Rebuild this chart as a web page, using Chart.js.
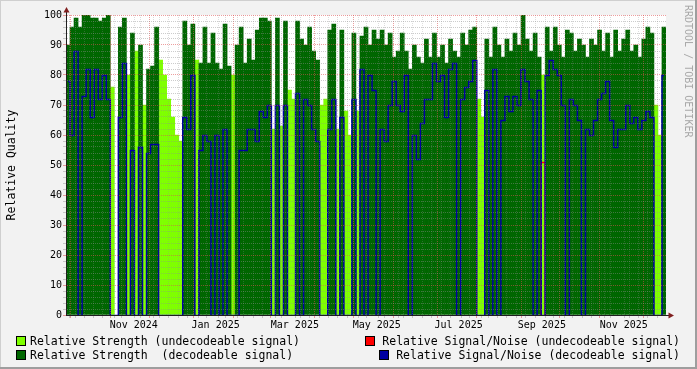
<!DOCTYPE html>
<html>
<head>
<meta charset="utf-8">
<script src="https://cdn.jsdelivr.net/npm/chart.js@4/dist/chart.umd.min.js"></script>
<style>
  html, body { margin: 0; padding: 0; background: #f2f2f2; }
  #wrap { position: relative; width: 697px; height: 369px; overflow: hidden; }
  #chart { position: absolute; left: 0; top: 0; }
  .leg { position: absolute; font-family: "DejaVu Sans Mono", monospace; font-size: 11.5px; line-height: 14px; white-space: pre; color: #000; }
  .sw { position: absolute; width: 8px; height: 8px; border: 1px solid #000; }
  #mark { position: absolute; left: 694px; top: 5px; transform-origin: 0 0; transform: rotate(90deg);
          font-family: "DejaVu Sans Mono", monospace; font-size: 10px; line-height: 12px; white-space: pre; color: #a9a9a9; }
</style>
</head>
<body>
<div id="wrap">
  <canvas id="chart" width="697" height="369"></canvas>
  <div class="sw" style="left:16px;top:336px;background:#7fff00"></div>
  <div class="leg" style="left:30px;top:334px">Relative Strength (undecodeable signal)</div>
  <div class="sw" style="left:365px;top:336px;background:#ff0000"></div>
  <div class="leg" style="right:17px;top:334px">Relative Signal/Noise (undecodeable signal)</div>
  <div class="sw" style="left:16px;top:350px;background:#006600"></div>
  <div class="leg" style="left:30px;top:348px">Relative Strength  (decodeable signal)</div>
  <div class="sw" style="left:379px;top:350px;background:#0000a0"></div>
  <div class="leg" style="right:17px;top:348px">Relative Signal/Noise (decodeable signal)</div>
  <div id="mark">RRDTOOL / TOBI OETIKER</div>
</div>
<script>
// one value every 3 days, first bucket starts 27 Sep 2024
const startDate = Date.UTC(2024, 8, 27);
const bucketDays = 3;

// relative strength per bucket (null = no data)
const strength = [
  90, 96, 99, 96, 100, 100, 99, 99, 98, 99,
  100, 76, null, 96, 99, 80, 94, 88, 90, 70,
  82, 83, 96, 85, 80, 72, 66, 60, 58, 98,
  90, 97, 85, 84, 96, 84, 94, 84, 82, 97,
  83, 80, 90, 96, 84, 92, 85, 95, 99, 99,
  98, 62, 99, 63, 98, 75, 72, 98, 92, 90,
  96, 88, 85, 70, 72, 95, 97, 62, 95, 68,
  60, 94, 68, 93, 96, 90, 95, 92, 95, 90,
  94, 86, 88, 94, 88, 82, 90, 86, 84, 92,
  86, 94, 86, 90, 84, 92, 88, 86, 94, 90,
  95, 96, 72, 66, 92, 86, 96, 90, 86, 92,
  88, 94, 90, 100, 92, 88, 94, 86, 80, 96,
  88, 96, 90, 86, 95, 94, 88, 92, 90, 86,
  92, 90, 95, 88, 94, 86, 95, 88, 92, 95,
  88, 90, 86, 92, 96, 94, 70, 60, 96
];

// 1 = signal could be decoded, 0 = not
const decodeable = [
  1, 1, 1, 1, 1, 1, 1, 1, 1, 1,
  1, 0, 0, 1, 1, 0, 1, 0, 1, 0,
  1, 1, 1, 0, 0, 0, 0, 0, 0, 1,
  1, 1, 0, 1, 1, 1, 1, 1, 1, 1,
  1, 0, 1, 1, 1, 1, 1, 1, 1, 1,
  1, 0, 1, 0, 1, 0, 0, 1, 1, 1,
  1, 1, 1, 0, 0, 1, 1, 0, 1, 0,
  0, 1, 0, 1, 1, 1, 1, 1, 1, 1,
  1, 1, 1, 1, 1, 1, 1, 1, 1, 1,
  1, 1, 1, 1, 1, 1, 1, 1, 1, 1,
  1, 1, 0, 0, 1, 1, 1, 1, 1, 1,
  1, 1, 1, 1, 1, 1, 1, 1, 0, 1,
  1, 1, 1, 1, 1, 1, 1, 1, 1, 1,
  1, 1, 1, 1, 1, 1, 1, 1, 1, 1,
  1, 1, 1, 1, 1, 1, 0, 0, 1
];

// relative signal/noise while decodeable
const snDecodeable = [
  78, 60, 88, 0, 73, 82, 66, 82, 72, 80,
  72, 0, 0, 66, 84, 0, 55, 0, 56, 0,
  54, 57, 57, 0, 0, 0, 0, 0, 0, 66,
  62, 80, 0, 55, 60, 58, 0, 60, 0, 62,
  0, 0, 0, 55, 55, 62, 62, 58, 68, 66,
  70, 0, 70, 0, 70, 0, 0, 74, 0, 72,
  70, 62, 58, 0, 0, 62, 72, 0, 66, 0,
  0, 72, 0, 82, 0, 80, 75, 0, 62, 58,
  70, 78, 70, 68, 80, 0, 60, 52, 64, 72,
  72, 84, 78, 80, 66, 82, 84, 0, 72, 76,
  78, 85, 0, 0, 75, 0, 82, 0, 65, 73,
  68, 73, 70, 82, 78, 72, 0, 75, 0, 80,
  85, 82, 80, 70, 0, 72, 70, 65, 0, 62,
  60, 65, 72, 74, 78, 65, 56, 62, 62, 70,
  64, 66, 62, 65, 68, 66, 0, 0, 80
];

// relative signal/noise while undecodeable (only visible once)
const snUndecodeable = [
  null, null, null, null, null, null, null, null, null, null,
  null, null, null, null, null, null, null, null, null, null,
  null, null, null, null, null, null, null, null, null, null,
  null, null, null, null, null, null, null, null, null, null,
  null, null, null, null, null, null, null, null, null, null,
  null, null, null, null, null, null, null, null, null, null,
  null, null, null, null, null, null, null, null, null, null,
  null, null, null, null, null, null, null, null, null, null,
  null, null, null, null, null, null, null, null, null, null,
  null, null, null, null, null, null, null, null, null, null,
  null, null, null, null, null, null, null, null, null, null,
  null, null, null, null, null, null, null, 0, 51, 0,
  null, null, null, null, null, null, null, null, null, null,
  null, null, null, null, null, null, null, null, null, null,
  null, null, null, null, null, null, null, null, null
];

const monthLabels = ['Nov 2024', 'Jan 2025', 'Mar 2025', 'May 2025', 'Jul 2025', 'Sep 2025', 'Nov 2025'];
const labelMonths = [[2024, 10], [2025, 0], [2025, 2], [2025, 4], [2025, 6], [2025, 8], [2025, 10]];

const DAY = 86400000;
const totalDays = strength.length * bucketDays;
const dayOf = (y, m, d) => (Date.UTC(y, m, d) - startDate) / DAY;

// x ticks: month starts (major grid), mondays (minor grid), labels in mid month
const xTicks = [];
for (let d = 3; d < totalDays; d += 7) xTicks.push({ value: d, kind: 'week', txt: '' });
for (let y = 2024, m = 9; dayOf(y, m, 1) < totalDays; m++) {
  if (m > 11) { m = 0; y++; }
  xTicks.push({ value: dayOf(y, m, 1), kind: 'month', txt: '' });
}
labelMonths.forEach((ym, i) => {
  xTicks.push({ value: dayOf(ym[0], ym[1], 1) + 15.5, kind: 'label', txt: monthLabels[i] });
});
xTicks.sort((a, b) => a.value - b.value);

const yTicks = [];
for (let v = 0; v <= 100; v += 2) yTicks.push({ value: v });

const xs = strength.map((s, i) => i * bucketDays + bucketDays / 2);
const darkData = xs.map((x, i) => ({ x: x, y: decodeable[i] === 1 ? strength[i] : null }));
const lightData = xs.map((x, i) => ({ x: x, y: decodeable[i] === 0 ? strength[i] : null }));
const blueData = xs.map((x, i) => ({ x: x, y: snDecodeable[i] }));
const redData = xs.map((x, i) => ({ x: x, y: snUndecodeable[i] }));

const GRID = 'rgba(143,143,143,0.45)';
const VGRID = 'rgba(143,143,143,0.3)';
const MGRID = 'rgba(222,79,79,0.55)';
const MONO = 'DejaVu Sans Mono';
const PLOT_W = 600;
const barW = PLOT_W / strength.length;

const frame = {
  id: 'frame',
  beforeDraw(chart) {
    const c = chart.ctx, a = chart.chartArea, w = chart.width, h = chart.height;
    c.save();
    c.fillStyle = '#f2f2f2';
    c.fillRect(0, 0, w, h);
    c.fillStyle = '#ffffff';
    c.fillRect(a.left, a.top, a.right - a.left, a.bottom - a.top);
    c.fillStyle = '#cfcfcf';
    c.fillRect(0, 0, w, 1);
    c.fillRect(0, 0, 1, h);
    c.fillStyle = '#9e9e9e';
    c.fillRect(0, h - 2, w, 2);
    c.fillRect(w - 2, 0, 2, h);
    c.restore();
  },
  // keep the 1px lines on whole pixel rows
  beforeDatasetDraw(chart, args) {
    if (args.meta.type === 'line') {
      chart.ctx.save();
      chart.ctx.translate(0, 0.5);
    }
  },
  afterDatasetDraw(chart, args) {
    if (args.meta.type === 'line') chart.ctx.restore();
  },
  afterDraw(chart) {
    const c = chart.ctx, a = chart.chartArea;
    const x0 = Math.round(a.left) + 0.5, y0 = Math.round(a.bottom) + 0.5;
    c.save();
    c.strokeStyle = '#1f1f1f';
    c.lineWidth = 1;
    c.beginPath();
    c.moveTo(x0, a.top);
    c.lineTo(x0, a.top - 3);
    c.moveTo(a.right, y0);
    c.lineTo(a.right + 3, y0);
    c.stroke();
    c.fillStyle = '#801f1f';
    c.beginPath();
    c.moveTo(x0 - 3, a.top - 2.5);
    c.lineTo(x0 + 3, a.top - 2.5);
    c.lineTo(x0, a.top - 8);
    c.closePath();
    c.fill();
    c.beginPath();
    c.moveTo(a.right + 2.5, y0 - 3);
    c.lineTo(a.right + 2.5, y0 + 3);
    c.lineTo(a.right + 8, y0);
    c.closePath();
    c.fill();
    c.restore();
  }
};

new Chart(document.getElementById('chart'), {
  type: 'bar',
  data: {
    datasets: [
      {
        type: 'line',
        label: 'Relative Signal/Noise (decodeable signal)',
        data: blueData,
        borderColor: '#0000a0',
        borderWidth: 1.5,
        pointRadius: 0,
        fill: false,
        stepped: 'middle',
        order: 1
      },
      {
        type: 'line',
        label: 'Relative Signal/Noise (undecodeable signal)',
        data: redData,
        borderColor: '#ff0000',
        borderWidth: 1.5,
        pointRadius: 0,
        fill: false,
        stepped: 'middle',
        spanGaps: false,
        order: 2
      },
      {
        label: 'Relative Strength  (decodeable signal)',
        data: darkData,
        backgroundColor: '#006600',
        borderWidth: 0,
        barThickness: barW,
        grouped: false,
        order: 3
      },
      {
        label: 'Relative Strength (undecodeable signal)',
        data: lightData,
        backgroundColor: '#7fff00',
        borderWidth: 0,
        barThickness: barW,
        grouped: false,
        order: 4
      }
    ]
  },
  options: {
    responsive: false,
    animation: false,
    devicePixelRatio: 1,
    layout: { padding: { left: 0, top: 15, right: 697 - 66 - PLOT_W, bottom: 34 } },
    plugins: { legend: { display: false }, tooltip: { enabled: false } },
    scales: {
      x: {
        type: 'linear',
        min: 0,
        max: totalDays,
        offset: false,
        afterBuildTicks: (scale) => { scale.ticks = xTicks.map(t => ({ value: t.value, kind: t.kind, txt: t.txt })); },
        afterFit: (scale) => { scale.height = 20; },
        grid: {
          z: 1,
          lineWidth: 1,
          tickLength: 3,
          color: (ctx) => ctx.tick && ctx.tick.kind === 'month' ? MGRID : (ctx.tick && ctx.tick.kind === 'week' ? VGRID : 'rgba(0,0,0,0)'),
          tickColor: (ctx) => ctx.tick && ctx.tick.kind === 'month' ? MGRID : (ctx.tick && ctx.tick.kind === 'week' ? GRID : 'rgba(0,0,0,0)')
        },
        border: { z: 2, color: '#1f1f1f', width: 1, dash: [1, 1] },
        ticks: {
          autoSkip: false,
          maxRotation: 0,
          padding: 1,
          color: '#000',
          font: { family: MONO, size: 10 },
          callback: function (v, i, ticks) { return ticks[i].txt || ''; }
        }
      },
      y: {
        min: 0,
        max: 100,
        afterBuildTicks: (scale) => { scale.ticks = yTicks.map(t => ({ value: t.value })); },
        afterFit: (scale) => { scale.width = 66; },
        grid: {
          z: 1,
          lineWidth: 1,
          tickLength: 3,
          color: (ctx) => ctx.tick && ctx.tick.value % 10 === 0 ? MGRID : GRID,
          tickColor: (ctx) => ctx.tick && ctx.tick.value % 10 === 0 ? MGRID : GRID
        },
        border: { z: 2, color: '#1f1f1f', width: 1, dash: [1, 1] },
        title: {
          display: true,
          text: 'Relative Quality',
          color: '#000',
          font: { family: MONO, size: 11.5 },
          padding: { top: 5, bottom: 0 }
        },
        ticks: {
          autoSkip: false,
          padding: 1,
          color: '#000',
          font: { family: MONO, size: 10 },
          callback: (v) => (v % 10 === 0 ? v : '')
        }
      }
    }
  },
  plugins: [frame]
});
</script>
</body>
</html>
